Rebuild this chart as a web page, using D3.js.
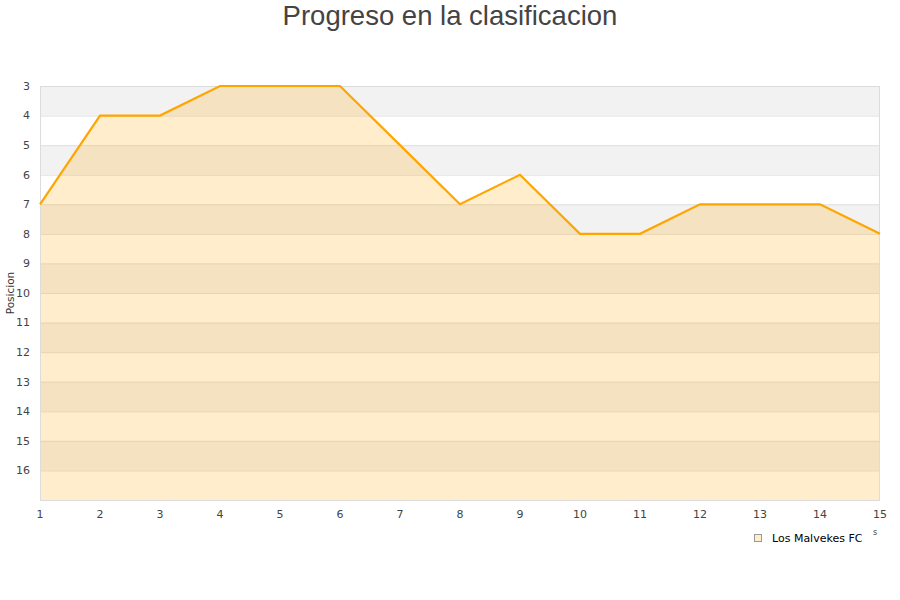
<!DOCTYPE html>
<html><head><meta charset="utf-8">
<script src="https://cdn.jsdelivr.net/npm/d3@7"></script>
<style>body{margin:0;background:#fff}</style>
</head><body>
<svg id="c" width="900" height="600"></svg>
<script>
const rounds = [1,2,3,4,5,6,7,8,9,10,11,12,13,14,15];
const positions = [7,4,4,3,3,3,5,7,6,8,8,7,7,7,8];
const yTicks = [3,4,5,6,7,8,9,10,11,12,13,14,15,16];
const seriesName = "Los Malvekes FC";
const title = "Progreso en la clasificacion";
const yTitle = "Posicion";

const svg = d3.select("#c");
const m = {l:40, r:880, t:86, b:500};
const x = d3.scaleLinear().domain([1,15]).range([m.l, m.r]);
const y = d3.scaleLinear().domain([3,17]).range([m.t, m.b]);

// bands
const bands = d3.range(3,17);
svg.selectAll("rect.band").data(bands).join("rect")
  .attr("x", m.l).attr("width", m.r-m.l)
  .attr("y", d=>y(d)).attr("height", d=>y(d+1)-y(d))
  .attr("fill", d=> (d%2===1) ? "#f2f2f2" : "#ffffff");
// grid
svg.selectAll("line.grid").data(yTicks.slice(1)).join("line")
  .attr("x1", m.l).attr("x2", m.r).attr("y1", d=>y(d)+0.5).attr("y2", d=>y(d)+0.5)
  .attr("stroke", "#e0e0e0").attr("stroke-width",1);

// area
const area = d3.area().x((d,i)=>x(rounds[i])).y0(y(17)).y1(d=>y(d));
svg.append("path").datum(positions).attr("d", area)
  .attr("fill", "#ffa500").attr("fill-opacity", 0.2);

// border
svg.append("rect").attr("x", m.l+0.5).attr("y", m.t+0.5).attr("width", m.r-m.l-1).attr("height", m.b-m.t)
  .attr("fill","none").attr("stroke","#dcdcdc");

// line
const line = d3.line().x((d,i)=>x(rounds[i])).y(d=>y(d));
svg.append("path").datum(positions).attr("d", line)
  .attr("fill","none").attr("stroke","#ffa500").attr("stroke-width",2.2);

// y labels
svg.selectAll("text.yl").data(yTicks).join("text")
  .attr("x", 30).attr("y", d=>y(d)).attr("dy","0.35em").attr("text-anchor","end")
  .attr("font-family","DejaVu Sans").attr("font-size",11).attr("fill","#444").text(d=>d);
// x labels
svg.selectAll("text.xl").data(rounds).join("text")
  .attr("x", d=>x(d)).attr("y", 518).attr("text-anchor","middle")
  .attr("font-family","DejaVu Sans").attr("font-size",11).attr("fill","#444").text(d=>d);

// y title
svg.append("text").attr("transform","translate(14,293) rotate(-90)").attr("text-anchor","middle")
  .attr("font-family","DejaVu Sans").attr("font-size",10.5).attr("fill","#333").text(yTitle);

// title
svg.append("text").attr("x",450).attr("y",25).attr("text-anchor","middle")
  .attr("font-family","Liberation Sans, Arial").attr("font-size",27.5).attr("fill","#444").text(title);

// legend
svg.append("rect").attr("x",754.5).attr("y",534.5).attr("width",7).attr("height",7)
  .attr("fill","#ffedcc").attr("stroke","#999");
svg.append("text").attr("x",772).attr("y",541.5)
  .attr("font-family","DejaVu Sans").attr("font-size",11).attr("fill","#000").text(seriesName);
svg.append("text").attr("x",873).attr("y",535)
  .attr("font-family","DejaVu Sans").attr("font-size",8).attr("fill","#444").text("s");
</script>
</body></html>
